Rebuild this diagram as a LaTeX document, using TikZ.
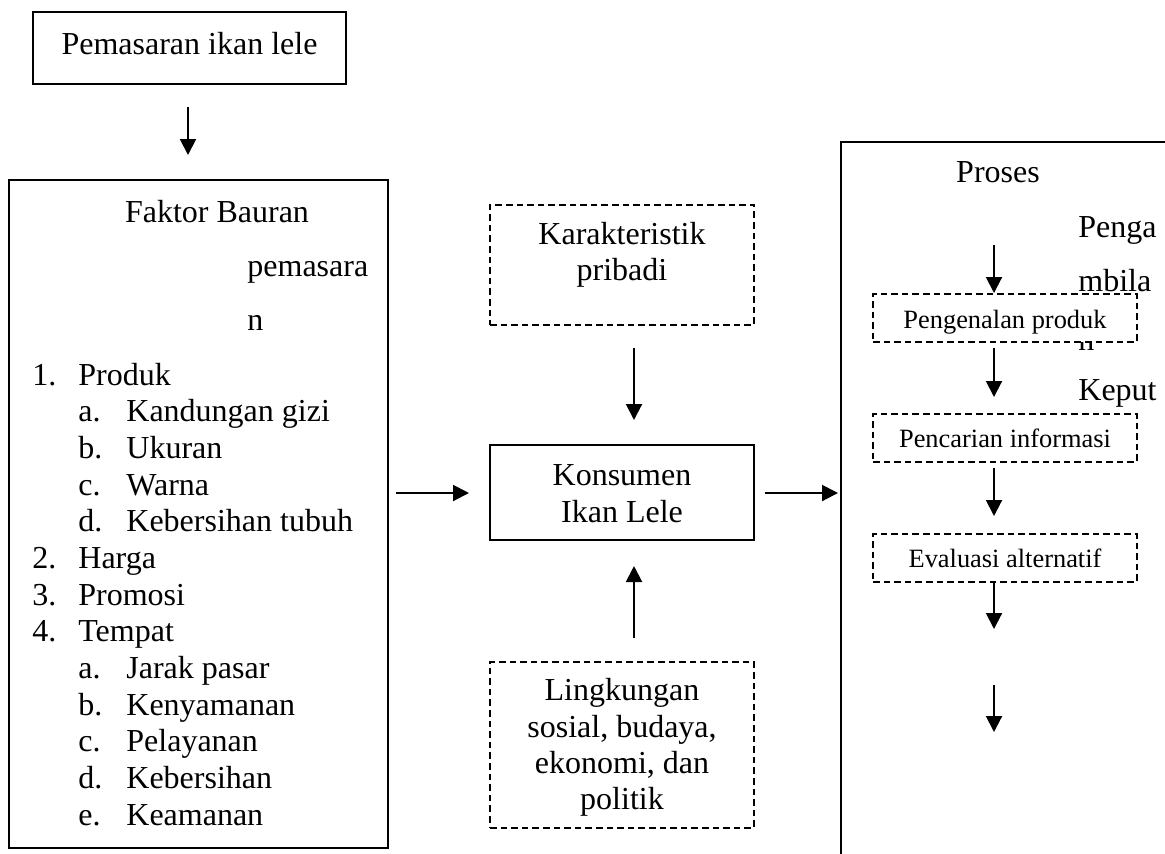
\documentclass[tikz,border=0pt]{standalone}
\usepackage{fontspec}
\setmainfont{Liberation Serif}
\usetikzlibrary{arrows.meta}
\begin{document}
\begin{tikzpicture}[x=0.5pt,y=-0.5pt,
  box/.style={draw, line width=1pt, inner sep=0pt},
  dbox/.style={draw, line width=1pt, dash pattern=on 3.3pt off 2pt, fill=white, inner sep=0pt},
  arr/.style={line width=1pt, -{Triangle[length=8pt,width=8pt]}},
  txt/.style={font=\fontsize{16}{18}\selectfont, inner sep=0pt, anchor=base},
  ltxt/.style={txt, anchor=base west},
  stxt/.style={font=\fontsize{13.2}{15}\selectfont, inner sep=0pt, anchor=base}]
\useasboundingbox (0,0) rectangle (1165,853);
\clip (0,0) rectangle (1165,853);

% top box
\node[box, minimum width=156.5pt, minimum height=36pt] (top) at (189.5,48) {};
\node[txt] (toptxt) at (189.5,54) {Pemasaran ikan lele};

% left box
\node[box, minimum width=189.5pt, minimum height=334pt] (left) at (198.5,514) {};
\node[txt] (lt1) at (217,222) {Faktor Bauran};
\node[ltxt] (lt2) at (247,276) {pemasara};
\node[ltxt] (lt3) at (247,330) {n};
\foreach \num/\lab/\txt [count=\i from 0] in {
  1/1./Produk, 2/a./Kandungan gizi, 3/b./Ukuran, 4/c./Warna, 5/d./Kebersihan tubuh,
  6/2./Harga, 7/3./Promosi, 8/4./Tempat, 9/a./Jarak pasar, 10/b./Kenyamanan,
  11/c./Pelayanan, 12/d./Kebersihan, 13/e./Keamanan}{
  \pgfmathsetmacro{\yy}{385+36.67*\i}
  \ifnum\num=1 \def\xa{32}\def\xb{78}\else
  \ifnum\num=6 \def\xa{32}\def\xb{78}\else
  \ifnum\num=7 \def\xa{32}\def\xb{78}\else
  \ifnum\num=8 \def\xa{32}\def\xb{78}\else
  \def\xa{78}\def\xb{126}\fi\fi\fi\fi
  \node[ltxt] (li\num a) at (\xa,\yy) {\lab};
  \node[ltxt] (li\num b) at (\xb,\yy) {\txt};
}

% middle column
\node[dbox, minimum width=132pt, minimum height=60pt] (kar) at (622,265) {};
\node[txt] (kar1) at (622,244) {Karakteristik};
\node[txt] (kar2) at (622,280) {pribadi};

\node[box, minimum width=132pt, minimum height=47.5pt] (kon) at (622,492.5) {};
\node[txt] (kon1) at (622,485) {Konsumen};
\node[txt] (kon2) at (622,522) {Ikan Lele};

\node[dbox, minimum width=132pt, minimum height=83pt] (lin) at (622,745) {};
\node[txt] (lin1) at (622,700) {Lingkungan};
\node[txt] (lin2) at (622,737) {sosial, budaya,};
\node[txt] (lin3) at (622,773) {ekonomi, dan};
\node[txt] (lin4) at (622,809) {politik};

% right big box
\draw[line width=1pt] (1200,142) -- (841,142) -- (841,900);
\coordinate (rbox) at (841,142);
\node[txt] (pro) at (998,182) {Proses};
\node[ltxt] (pr1) at (1078,237) {Penga};
\node[ltxt] (pr2) at (1078,291.3) {mbila};
\node[ltxt] (pr3) at (1078,350) {n};
\node[ltxt] (pr4) at (1078,400) {Keput};

\node[dbox, minimum width=132pt, minimum height=24pt] (b1) at (1005,318) {};
\node[stxt] (b1t) at (1005,328) {Pengenalan produk};
\node[dbox, minimum width=132pt, minimum height=24pt] (b2) at (1005,438) {};
\node[stxt] (b2t) at (1005,447) {Pencarian informasi};
\node[dbox, minimum width=132pt, minimum height=24pt] (b3) at (1005,558) {};
\node[stxt] (b3t) at (1005,567) {Evaluasi alternatif};

% arrow coordinates
\coordinate (a1s) at (188,107); \coordinate (a1e) at (188,155);
\coordinate (a2s) at (634,348); \coordinate (a2e) at (634,420);
\coordinate (a3s) at (396,493); \coordinate (a3e) at (469,493);
\coordinate (a4s) at (765,493); \coordinate (a4e) at (838,493);
\coordinate (a5s) at (634,638); \coordinate (a5e) at (634,566);
\coordinate (r1s) at (994,245); \coordinate (r1e) at (994,293);
\coordinate (r2s) at (994,348); \coordinate (r2e) at (994,397);
\coordinate (r3s) at (994,468); \coordinate (r3e) at (994,516);
\coordinate (r4s) at (994,582); \coordinate (r4e) at (994,629);
\coordinate (r5s) at (994,685); \coordinate (r5e) at (994,732);
\foreach \s/\e in {a1s/a1e,a2s/a2e,a3s/a3e,a4s/a4e,a5s/a5e,r1s/r1e,r2s/r2e,r3s/r3e,r4s/r4e,r5s/r5e}
  \draw[arr] (\s) -- (\e);
\end{tikzpicture}
\end{document}
